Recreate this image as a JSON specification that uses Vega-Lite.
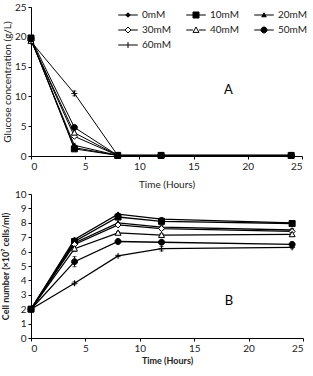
{
  "$schema": "https://vega.github.io/schema/vega-lite/v6.json",
  "padding": {"top": 2, "left": 1, "right": 8, "bottom": 2},
  "spacing": 0,
  "datasets": {
    "glucose": [
      {"t": 0, "c": "0mM", "v": 19.6, "e": 0}, {"t": 4, "c": "0mM", "v": 1.4, "e": 0}, {"t": 8, "c": "0mM", "v": 0.1, "e": 0}, {"t": 12, "c": "0mM", "v": 0.1, "e": 0}, {"t": 24, "c": "0mM", "v": 0.1, "e": 0},
      {"t": 0, "c": "10mM", "v": 19.8, "e": 0}, {"t": 4, "c": "10mM", "v": 1.2, "e": 0}, {"t": 8, "c": "10mM", "v": 0.1, "e": 0}, {"t": 12, "c": "10mM", "v": 0.1, "e": 0}, {"t": 24, "c": "10mM", "v": 0.1, "e": 0},
      {"t": 0, "c": "20mM", "v": 19.5, "e": 0}, {"t": 4, "c": "20mM", "v": 1.8, "e": 0.2}, {"t": 8, "c": "20mM", "v": 0.1, "e": 0}, {"t": 12, "c": "20mM", "v": 0.1, "e": 0}, {"t": 24, "c": "20mM", "v": 0.1, "e": 0},
      {"t": 0, "c": "30mM", "v": 19.4, "e": 0}, {"t": 4, "c": "30mM", "v": 3.3, "e": 0}, {"t": 8, "c": "30mM", "v": 0.1, "e": 0}, {"t": 12, "c": "30mM", "v": 0.1, "e": 0}, {"t": 24, "c": "30mM", "v": 0.1, "e": 0},
      {"t": 0, "c": "40mM", "v": 19.3, "e": 0}, {"t": 4, "c": "40mM", "v": 3.9, "e": 0}, {"t": 8, "c": "40mM", "v": 0.1, "e": 0}, {"t": 12, "c": "40mM", "v": 0.1, "e": 0}, {"t": 24, "c": "40mM", "v": 0.1, "e": 0},
      {"t": 0, "c": "50mM", "v": 19.7, "e": 0}, {"t": 4, "c": "50mM", "v": 4.8, "e": 0}, {"t": 8, "c": "50mM", "v": 0.1, "e": 0}, {"t": 12, "c": "50mM", "v": 0.1, "e": 0}, {"t": 24, "c": "50mM", "v": 0.1, "e": 0},
      {"t": 0, "c": "60mM", "v": 19.2, "e": 0}, {"t": 4, "c": "60mM", "v": 10.5, "e": 0.4}, {"t": 8, "c": "60mM", "v": 0.1, "e": 0}, {"t": 12, "c": "60mM", "v": 0.1, "e": 0}, {"t": 24, "c": "60mM", "v": 0.1, "e": 0}
    ],
    "cells": [
      {"t": 0, "c": "0mM", "v": 2, "e": 0}, {"t": 4, "c": "0mM", "v": 6.85, "e": 0}, {"t": 8, "c": "0mM", "v": 8.6, "e": 0}, {"t": 12, "c": "0mM", "v": 8.25, "e": 0.1}, {"t": 24, "c": "0mM", "v": 8.0, "e": 0.1},
      {"t": 0, "c": "10mM", "v": 2, "e": 0}, {"t": 4, "c": "10mM", "v": 6.7, "e": 0}, {"t": 8, "c": "10mM", "v": 8.4, "e": 0}, {"t": 12, "c": "10mM", "v": 8.1, "e": 0.1}, {"t": 24, "c": "10mM", "v": 7.95, "e": 0.1},
      {"t": 0, "c": "20mM", "v": 2, "e": 0}, {"t": 4, "c": "20mM", "v": 6.6, "e": 0}, {"t": 8, "c": "20mM", "v": 8.0, "e": 0}, {"t": 12, "c": "20mM", "v": 7.7, "e": 0.1}, {"t": 24, "c": "20mM", "v": 7.5, "e": 0.1},
      {"t": 0, "c": "30mM", "v": 2, "e": 0}, {"t": 4, "c": "30mM", "v": 6.5, "e": 0}, {"t": 8, "c": "30mM", "v": 7.85, "e": 0}, {"t": 12, "c": "30mM", "v": 7.6, "e": 0.1}, {"t": 24, "c": "30mM", "v": 7.4, "e": 0.1},
      {"t": 0, "c": "40mM", "v": 2, "e": 0}, {"t": 4, "c": "40mM", "v": 6.2, "e": 0.2}, {"t": 8, "c": "40mM", "v": 7.3, "e": 0.1}, {"t": 12, "c": "40mM", "v": 7.15, "e": 0.1}, {"t": 24, "c": "40mM", "v": 7.2, "e": 0.15},
      {"t": 0, "c": "50mM", "v": 2, "e": 0}, {"t": 4, "c": "50mM", "v": 5.3, "e": 0.35}, {"t": 8, "c": "50mM", "v": 6.7, "e": 0.1}, {"t": 12, "c": "50mM", "v": 6.65, "e": 0.15}, {"t": 24, "c": "50mM", "v": 6.5, "e": 0.1},
      {"t": 0, "c": "60mM", "v": 2, "e": 0}, {"t": 4, "c": "60mM", "v": 3.8, "e": 0.1}, {"t": 8, "c": "60mM", "v": 5.7, "e": 0.05}, {"t": 12, "c": "60mM", "v": 6.2, "e": 0.15}, {"t": 24, "c": "60mM", "v": 6.3, "e": 0.1}
    ]
  },
  "vconcat": [
    {
      "width": 271,
      "height": 149,
      "encoding": {
        "x": {"field": "t", "type": "quantitative", "scale": {"domain": [0, 25], "nice": false}, "axis": {"values": [0, 5, 10, 15, 20, 25], "title": "Time (Hours)", "titlePadding": 8}},
        "y": {"field": "v", "type": "quantitative", "scale": {"domain": [0, 25], "nice": false}, "axis": {"values": [0, 5, 10, 15, 20, 25], "title": "Glucose concentration (g/L)", "titlePadding": 2}}
      },
      "layer": [
        {
          "data": {"name": "glucose"},
          "mark": {"type": "line", "color": "black", "strokeWidth": 1},
          "encoding": {"detail": {"field": "c"}}
        },
        {
          "data": {"name": "glucose"},
          "transform": [{"filter": "datum.e > 0"}],
          "mark": {"type": "errorbar", "color": "black", "thickness": 1, "ticks": {"size": 4, "color": "black"}},
          "encoding": {"yError": {"field": "e"}}
        },
        {
          "data": {"name": "glucose"},
          "mark": {"type": "point", "filled": true, "stroke": "black", "strokeWidth": 1, "opacity": 1, "size": 36},
          "encoding": {
            "shape": {
              "field": "c", "type": "nominal",
              "scale": {
                "domain": ["0mM", "10mM", "20mM", "30mM", "40mM", "50mM", "60mM"],
                "range": ["M0,-0.75L0.75,0L0,0.75L-0.75,0Z", "M-1,-1H1V1H-1Z", "M0,-0.75L0.75,0.6H-0.75Z", "M0,-1L1,0L0,1L-1,0Z", "M0,-1L1,0.8H-1Z", "M1,0A1,1,0,1,1,-1,0A1,1,0,1,1,1,0Z", "M-1,0H1M0,-1V1"]
              },
              "legend": null
            },
            "fill": {
              "field": "c", "type": "nominal",
              "scale": {
                "domain": ["0mM", "10mM", "20mM", "30mM", "40mM", "50mM", "60mM"],
                "range": ["black", "black", "black", "white", "white", "black", "black"]
              },
              "legend": null
            }
          }
        },
        {
          "data": {"name": "glucose"},
          "transform": [{"filter": "datum.t == 24"}],
          "mark": {"type": "point", "filled": true, "stroke": "black", "strokeWidth": 1, "opacity": 0, "size": 225},
          "encoding": {
            "shape": {
              "field": "c", "type": "nominal",
              "scale": {
                "domain": ["0mM", "10mM", "20mM", "30mM", "40mM", "50mM", "60mM"],
                "range": ["M-1.3,0H1.3M0,-0.3L0.3,0L0,0.3L-0.3,0Z", "M-1.3,0H1.3M-0.4,-0.4H0.4V0.4H-0.4Z", "M-1.3,0H1.3M0,-0.3L0.3,0.24H-0.3Z", "M-1.3,0H-0.4M0.4,0H1.3M0,-0.4L0.4,0L0,0.4L-0.4,0Z", "M-1.3,0H-0.4M0.4,0H1.3M0,-0.4L0.4,0.32H-0.4Z", "M-1.3,0H1.3M0.4,0A0.4,0.4,0,1,1,-0.4,0A0.4,0.4,0,1,1,0.4,0Z", "M-1.3,0H1.3M0,-0.4V0.4"]
              },
              "legend": {
                "title": null,
                "orient": "none",
                "legendX": 89,
                "legendY": 0,
                "direction": "horizontal",
                "columns": 3,
                "columnPadding": 12,
                "rowPadding": 2,
                "symbolSize": 225,
                "symbolStrokeWidth": 1,
                "symbolOpacity": 1,
                "labelOffset": 6,
                "labelFontSize": 10,
                "labelColor": "#222"
              }
            },
            "fill": {
              "field": "c", "type": "nominal",
              "scale": {
                "domain": ["0mM", "10mM", "20mM", "30mM", "40mM", "50mM", "60mM"],
                "range": ["black", "black", "black", "white", "white", "black", "black"]
              }
            }
          }
        },
        {
          "data": {"values": [{"t": 18.2, "v": 11, "label": "A"}]},
          "mark": {"type": "text", "fontSize": 13, "font": "Lato", "color": "black"},
          "encoding": {"text": {"field": "label"}}
        }
      ],
      "resolve": {"scale": {"shape": "independent", "fill": "independent"}, "legend": {"shape": "independent", "fill": "independent"}}
    },
    {
      "width": 272,
      "height": 144,
      "encoding": {
        "x": {"field": "t", "type": "quantitative", "scale": {"domain": [0, 25], "nice": false}, "axis": {"values": [0, 5, 10, 15, 20, 25], "title": "Time (Hours)", "titleFontWeight": "bold", "titleFontSize": 9, "titlePadding": 3}},
        "y": {"field": "v", "type": "quantitative", "scale": {"domain": [0, 10], "nice": false}, "axis": {"values": [0, 1, 2, 3, 4, 5, 6, 7, 8, 9, 10], "title": "Cell number (×10⁷ cells/ml)", "titleFontWeight": "bold", "titleFontSize": 9, "titlePadding": 4}}
      },
      "layer": [
        {
          "data": {"name": "cells"},
          "mark": {"type": "line", "color": "black", "strokeWidth": 1.3},
          "encoding": {"detail": {"field": "c"}}
        },
        {
          "data": {"name": "cells"},
          "transform": [{"filter": "datum.e > 0"}],
          "mark": {"type": "errorbar", "color": "black", "thickness": 1, "ticks": {"size": 4, "color": "black"}},
          "encoding": {"yError": {"field": "e"}}
        },
        {
          "data": {"name": "cells"},
          "mark": {"type": "point", "filled": true, "stroke": "black", "strokeWidth": 1, "opacity": 1, "size": 36},
          "encoding": {
            "shape": {
              "field": "c", "type": "nominal",
              "scale": {
                "domain": ["0mM", "10mM", "20mM", "30mM", "40mM", "50mM", "60mM"],
                "range": ["M0,-0.75L0.75,0L0,0.75L-0.75,0Z", "M-1,-1H1V1H-1Z", "M0,-0.75L0.75,0.6H-0.75Z", "M0,-1L1,0L0,1L-1,0Z", "M0,-1L1,0.8H-1Z", "M1,0A1,1,0,1,1,-1,0A1,1,0,1,1,1,0Z", "M-1,0H1M0,-1V1"]
              },
              "legend": null
            },
            "fill": {
              "field": "c", "type": "nominal",
              "scale": {
                "domain": ["0mM", "10mM", "20mM", "30mM", "40mM", "50mM", "60mM"],
                "range": ["black", "black", "black", "white", "white", "black", "black"]
              },
              "legend": null
            }
          }
        },
        {
          "data": {"values": [{"t": 18.2, "v": 2.6, "label": "B"}]},
          "mark": {"type": "text", "fontSize": 13, "font": "Lato", "color": "black"},
          "encoding": {"text": {"field": "label"}}
        }
      ]
    }
  ],
  "resolve": {"scale": {"shape": "independent", "fill": "independent", "x": "independent", "y": "independent"}, "legend": {"shape": "independent", "fill": "independent"}},
  "config": {
    "font": "Lato",
    "view": {"stroke": null},
    "axis": {
      "grid": false,
      "domainColor": "black",
      "tickColor": "black",
      "tickSize": 3,
      "labelColor": "#222",
      "titleColor": "#222",
      "labelFont": "Lato",
      "titleFont": "Lato",
      "labelFontSize": 10,
      "titleFontSize": 10,
      "titleFontWeight": "normal",
      "labelPadding": 2
    }
  }
}
